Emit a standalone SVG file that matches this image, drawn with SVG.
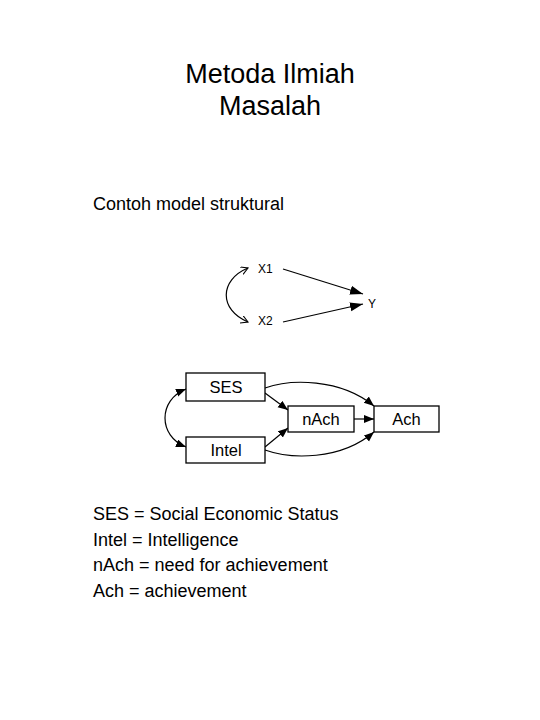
<svg xmlns="http://www.w3.org/2000/svg" width="540" height="720" viewBox="0 0 540 720">
<style>
text{font-family:"Liberation Sans",Arial,sans-serif;fill:#000}
.box{fill:#fff;stroke:#000;stroke-width:1.3}
.ln{fill:none;stroke:#000;stroke-width:1.2}
</style>
<defs>
<marker id="big" markerUnits="userSpaceOnUse" markerWidth="14" markerHeight="10" refX="13" refY="4.5" orient="auto"><path d="M0,0 L13,4.5 L0,9 Z" fill="#000"/></marker>
<marker id="fa" markerUnits="userSpaceOnUse" markerWidth="11" markerHeight="9" refX="10" refY="4" orient="auto-start-reverse"><path d="M0,0 L10,4 L0,8 Z" fill="#000"/></marker>
<marker id="open" markerUnits="userSpaceOnUse" markerWidth="9" markerHeight="9" refX="7" refY="4" orient="auto-start-reverse"><path d="M0,0 L7,4 L0,8" fill="none" stroke="#000" stroke-width="1.1"/></marker>
</defs>
<rect width="540" height="720" fill="#fff"/>
<g id="title">
<text x="270" y="83" font-size="27" text-anchor="middle">Metoda Ilmiah</text>
<text x="270" y="115" font-size="27" text-anchor="middle">Masalah</text>
</g>
<text x="93" y="210" font-size="18">Contoh model struktural</text>
<g id="connectors">
<path class="ln" d="M248,268 C219,280 219,310 248,322" marker-start="url(#open)" marker-end="url(#open)"/>
<path class="ln" d="M283,269 L363,294" marker-end="url(#big)"/>
<path class="ln" d="M283,322 L363,304" marker-end="url(#big)"/>
<path class="ln" d="M186,389 C158,400 158,436 186,447" marker-start="url(#fa)" marker-end="url(#fa)"/>
<path class="ln" d="M265,393 L288,410" marker-end="url(#fa)"/>
<path class="ln" d="M265,447 L288,428" marker-end="url(#fa)"/>
<path class="ln" d="M354,419 L374,419" marker-end="url(#fa)"/>
<path class="ln" d="M265,388 C290,379 340,378 374,406" marker-end="url(#fa)"/>
<path class="ln" d="M265,450 C290,459 340,461 374,432" marker-end="url(#fa)"/>
</g>
<g id="X1"><text x="258" y="273" font-size="12">X1</text></g>
<g id="X2"><text x="258" y="325" font-size="12">X2</text></g>
<g id="Y"><text x="368" y="308" font-size="12">Y</text></g>
<g id="SES"><rect class="box" x="186" y="373" width="79" height="28"/><text x="226" y="393" font-size="16.5" text-anchor="middle">SES</text></g>
<g id="Intel"><rect class="box" x="186" y="437" width="79" height="26"/><text x="226" y="456" font-size="16.5" text-anchor="middle">Intel</text></g>
<g id="nAch"><rect class="box" x="288" y="406" width="66" height="26"/><text x="321" y="425" font-size="16.5" text-anchor="middle">nAch</text></g>
<g id="Ach"><rect class="box" x="374" y="406" width="65" height="26"/><text x="406.5" y="425" font-size="16.5" text-anchor="middle">Ach</text></g>
<g id="legend" font-size="18">
<text x="93" y="520" font-size="18">SES = Social Economic Status</text>
<text x="93" y="546" font-size="18">Intel = Intelligence</text>
<text x="93" y="571" font-size="18">nAch = need for achievement</text>
<text x="93" y="597" font-size="18">Ach = achievement</text>
</g>
</svg>
